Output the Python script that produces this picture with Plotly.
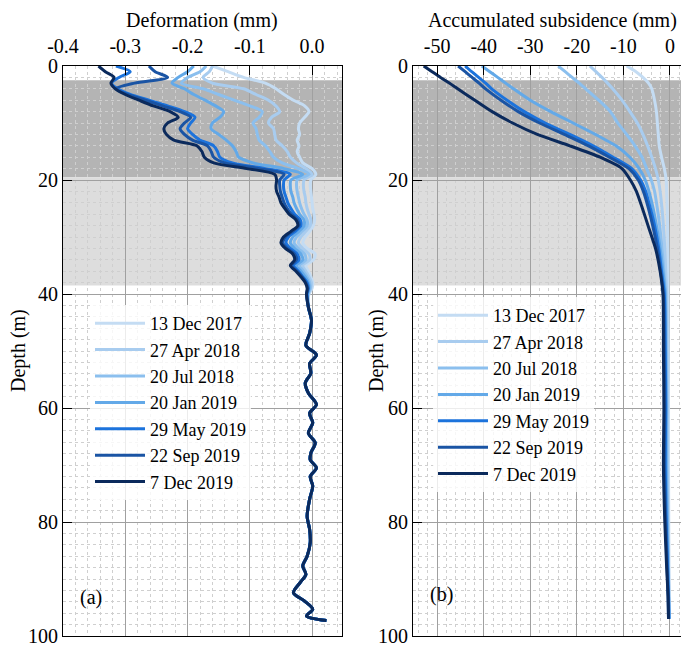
import plotly.graph_objects as go

# ---------------- data ----------------
series_names = ["13 Dec 2017", "27 Apr 2018", "20 Jul 2018", "20 Jan 2019",
                "29 May 2019", "22 Sep 2019", "7 Dec 2019"]
series_colors = ["#c4dcf3", "#a8ccef", "#8bbfee", "#63a9e8",
                 "#1c73dc", "#1a54a4", "#0b2a5c"]

# panel (a) depth (m)
depth_upper = list(range(0, 41))
depth_deep = [42.3, 44.6, 46.9, 49.0, 50.7, 52.2, 53.9, 55.6, 57.4, 59.4, 60.9,
              62.6, 64.4, 66.1, 67.9, 69.1, 70.5, 72.0, 73.7, 76.0, 79.0, 81.3,
              83.6, 86.0, 87.7, 89.2, 90.6, 92.4, 93.8, 95.3, 96.5, 97.3]
deform_deep = [-0.006, -0.001, -0.004, -0.010, 0.007, -0.004, -0.002, -0.011,
               -0.006, 0.007, -0.004, 0.001, -0.006, 0.005, -0.002, -0.003,
               0.007, -0.003, 0.001, -0.004, -0.008, -0.004, -0.003, -0.008,
               -0.015, -0.010, -0.019, -0.030, -0.013, 0.001, -0.009, 0.023]

deform_13dec2017 = [-0.160, -0.135, -0.110, -0.075, -0.058, -0.045, -0.030, -0.012, -0.005, -0.012,
                    -0.020, -0.022, -0.020, -0.024, -0.021, -0.024, -0.020, -0.015, 0.000, 0.006,
                    -0.002, -0.003, -0.002, -0.001, 0.000, 0.001, 0.003, 0.004, 0.002, -0.004,
                    -0.011, -0.015, -0.008, 0.005, 0.002, -0.010, -0.006, -0.002, 0.001, 0.000, -0.005]
deform_27apr2018 = [-0.160, -0.165, -0.175, -0.160, -0.110, -0.090, -0.070, -0.058, -0.052, -0.065,
                    -0.070, -0.062, -0.060, -0.058, -0.048, -0.040, -0.035, -0.025, -0.010, 0.000,
                    -0.013, -0.014, -0.013, -0.011, -0.010, -0.008, -0.005, -0.002, -0.003, -0.010,
                    -0.018, -0.022, -0.015, -0.005, -0.004, -0.015, -0.010, -0.005, -0.001, -0.002, -0.006]
deform_20jul2018 = [-0.170, -0.180, -0.200, -0.210, -0.175, -0.150, -0.125, -0.100, -0.080, -0.085,
                    -0.095, -0.090, -0.088, -0.085, -0.075, -0.068, -0.062, -0.048, -0.022, -0.005,
                    -0.024, -0.025, -0.024, -0.022, -0.020, -0.017, -0.013, -0.008, -0.008, -0.016,
                    -0.025, -0.029, -0.022, -0.012, -0.010, -0.020, -0.014, -0.008, -0.004, -0.003, -0.007]
deform_20jan2019 = [-0.190, -0.200, -0.215, -0.225, -0.205, -0.190, -0.172, -0.155, -0.142, -0.148,
                    -0.160, -0.162, -0.150, -0.138, -0.128, -0.122, -0.118, -0.095, -0.045, -0.015,
                    -0.034, -0.035, -0.034, -0.031, -0.029, -0.025, -0.020, -0.013, -0.013, -0.021,
                    -0.031, -0.035, -0.028, -0.018, -0.015, -0.025, -0.018, -0.011, -0.006, -0.005, -0.007]
deform_29may2019 = [-0.315, -0.292, -0.310, -0.322, -0.312, -0.292, -0.262, -0.232, -0.205, -0.188,
                    -0.195, -0.200, -0.192, -0.180, -0.158, -0.152, -0.148, -0.128, -0.075, -0.035,
                    -0.045, -0.046, -0.045, -0.042, -0.039, -0.034, -0.028, -0.019, -0.018, -0.027,
                    -0.038, -0.042, -0.035, -0.024, -0.021, -0.030, -0.022, -0.015, -0.008, -0.006, -0.008]
deform_22sep2019 = [-0.262, -0.252, -0.232, -0.285, -0.315, -0.296, -0.268, -0.240, -0.212, -0.195,
                    -0.205, -0.212, -0.205, -0.192, -0.168, -0.162, -0.158, -0.140, -0.085, -0.045,
                    -0.052, -0.052, -0.051, -0.048, -0.045, -0.040, -0.033, -0.023, -0.021, -0.031,
                    -0.043, -0.047, -0.040, -0.028, -0.025, -0.033, -0.024, -0.016, -0.010, -0.007, -0.009]
deform_7dec2019 = [-0.343, -0.332, -0.318, -0.323, -0.316, -0.300, -0.278, -0.255, -0.228, -0.215,
                   -0.232, -0.238, -0.234, -0.222, -0.185, -0.177, -0.173, -0.158, -0.105, -0.060,
                   -0.057, -0.058, -0.057, -0.053, -0.050, -0.044, -0.037, -0.026, -0.023, -0.034,
                   -0.046, -0.050, -0.043, -0.031, -0.028, -0.035, -0.026, -0.018, -0.011, -0.008, -0.009]

# panel (b)
depth_b = [0, 1, 2, 3, 4, 6, 8, 10, 12, 14, 16, 18, 20, 22, 25, 28, 32, 36, 40, 50, 60, 70, 80, 88, 93, 97]
subs_13dec2017 = [-9.3, -7.3, -5.8, -4.6, -3.9, -3.3, -2.9, -2.7, -2.5, -2.3, -1.8, -1.2, -0.8,
                  -0.7, -0.6, -0.5, -0.45, -0.4, -0.4, -0.35, -0.3, -0.3, -0.25, -0.2, -0.15, -0.1]
subs_27apr2018 = [-17.2, -15.9, -14.6, -13.4, -12.3, -10.3, -8.6, -7.0, -5.8, -4.8, -3.9, -3.1, -2.5,
                  -2.1, -1.7, -1.4, -1.1, -0.9, -0.7, -0.6, -0.5, -0.5, -0.4, -0.3, -0.2, -0.15]
subs_20jul2018 = [-24.0, -22.5, -21.0, -19.5, -18.1, -15.3, -12.8, -11.2, -9.3, -7.5, -6.0, -5.0, -4.0,
                  -3.3, -2.7, -2.2, -1.7, -1.3, -0.9, -0.8, -0.7, -0.7, -0.5, -0.35, -0.25, -0.2]
subs_20jan2019 = [-40.4, -38.7, -37.0, -35.3, -33.6, -30.0, -25.6, -20.8, -16.0, -11.6, -8.6, -6.6, -5.3,
                  -4.5, -3.6, -2.9, -2.1, -1.5, -1.0, -0.9, -0.8, -0.8, -0.6, -0.4, -0.3, -0.2]
subs_29may2019 = [-44.0, -42.6, -41.1, -39.6, -38.3, -35.0, -31.3, -26.8, -21.5, -16.5, -12.2, -8.2, -6.3,
                  -5.2, -4.2, -3.3, -2.4, -1.8, -1.2, -1.0, -0.9, -1.0, -0.8, -0.5, -0.3, -0.2]
subs_22sep2019 = [-45.5, -44.0, -42.5, -41.0, -39.6, -36.3, -32.6, -28.0, -22.7, -17.5, -13.0, -8.8, -6.8,
                  -5.7, -4.6, -3.7, -2.7, -2.0, -1.4, -1.2, -1.1, -1.2, -0.9, -0.6, -0.4, -0.3]
subs_7dec2019 = [-52.9, -51.1, -49.3, -47.4, -45.6, -41.9, -38.2, -33.8, -28.5, -21.5, -15.0, -10.3, -8.5,
                 -7.2, -5.9, -4.7, -3.1, -2.1, -1.5, -1.4, -1.3, -1.4, -1.1, -0.7, -0.4, -0.3]

# stratum boundaries (m): top of dark layer, dark/light boundary, bottom of light layer
zone_depths = [2.5, 19.5, 38.5]

depth_ticks = [0, 20, 40, 60, 80, 100]
deform_ticks = [-0.4, -0.3, -0.2, -0.1, 0.0]
deform_ticktext = ["-0.4", "-0.3", "-0.2", "-0.1", "0.0"]
subs_ticks = [-50, -40, -30, -20, -10, 0]
subs_ticktext = ["-50", "-40", "-30", "-20", "-10", "0"]

deform_series = [deform_13dec2017, deform_27apr2018, deform_20jul2018, deform_20jan2019,
                 deform_29may2019, deform_22sep2019, deform_7dec2019]
subs_series = [subs_13dec2017, subs_27apr2018, subs_20jul2018, subs_20jan2019,
               subs_29may2019, subs_22sep2019, subs_7dec2019]

# ---------------- figure ----------------
# the page body has an 8 px margin, so the figure is drawn 8 px smaller
OFF = 8
WIN_W, WIN_H = 689, 648
W, H = WIN_W - OFF, WIN_H - OFF
FONT = "Liberation Serif"
fig = go.Figure()

depth_a = depth_upper + depth_deep
for name, col, vals in zip(series_names, series_colors, deform_series):
    fig.add_trace(go.Scatter(
        x=vals + deform_deep, y=depth_a, mode="lines", name=name,
        line=dict(color=col, width=3, shape="spline", smoothing=0.8),
        xaxis="x", yaxis="y", legend="legend"))

for name, col, vals in zip(series_names, series_colors, subs_series):
    fig.add_trace(go.Scatter(
        x=vals, y=depth_b, mode="lines", name=name,
        line=dict(color=col, width=3, shape="spline", smoothing=0.6),
        xaxis="x2", yaxis="y2", legend="legend2"))

def px(v):
    return (v - OFF) / W

def py(v):
    return 1 - (v - OFF) / H

ydom = [py(636), py(66)]

common_x = dict(side="top", ticks="inside", ticklen=9, tickcolor="black", tickwidth=1,
                showline=True, linecolor="black", linewidth=1, mirror=True,
                showgrid=True, gridcolor="#a0a0a0", gridwidth=1, zeroline=False,
                automargin=False, ticklabelstandoff=4,
                tickfont=dict(family=FONT, size=20, color="black"))
common_y = dict(range=[100, 0], tickvals=depth_ticks, ticks="inside", ticklen=9,
                tickcolor="black", tickwidth=1, showline=True, linecolor="black",
                linewidth=1, showgrid=True, gridcolor="#a0a0a0", gridwidth=1,
                zeroline=False, domain=ydom, automargin=False, ticklabelstandoff=0,
                minor=dict(dtick=2, showgrid=True, gridcolor="#cfcfcf", griddash="dot", ticks=""),
                tickfont=dict(family=FONT, size=20, color="black"))

leg_common = dict(xanchor="left", yanchor="top", bgcolor="rgba(255,255,255,0.8)",
                  borderwidth=0, font=dict(family=FONT, size=18, color="black"),
                  itemwidth=50, tracegroupgap=0)

fig.update_layout(
    width=W, height=H,
    margin=dict(l=0, r=0, t=0, b=0, autoexpand=False),
    paper_bgcolor="white", plot_bgcolor="white",
    font=dict(family=FONT, size=20, color="black"),
    xaxis=dict(common_x, domain=[px(63), px(342)], anchor="y",
               range=[-0.4, 0.048], tickvals=deform_ticks, ticktext=deform_ticktext,
               minor=dict(dtick=0.02, showgrid=True, gridcolor="#cfcfcf", griddash="dot", ticks="")),
    yaxis=dict(common_y, anchor="x", mirror=True),
    xaxis2=dict(common_x, domain=[px(413), 1.0], anchor="y2",
                range=[-55.2, 4.1], tickvals=subs_ticks, ticktext=subs_ticktext,
                minor=dict(dtick=2, showgrid=True, gridcolor="#cfcfcf", griddash="dot", ticks="")),
    yaxis2=dict(common_y, anchor="x2", mirror=False),
    legend=dict(leg_common, x=px(90), y=py(305)),
    legend2=dict(leg_common, x=px(433), y=py(297)),
    showlegend=True,
)

# stratum shading
for xr, yr in (("x domain", "y"), ("x2 domain", "y2")):
    fig.add_shape(type="rect", xref=xr, yref=yr, x0=0, x1=1,
                  y0=zone_depths[0], y1=zone_depths[1],
                  fillcolor="#b4b4b4", line=dict(width=0), layer="below")
    fig.add_shape(type="rect", xref=xr, yref=yr, x0=0, x1=1,
                  y0=zone_depths[1], y1=zone_depths[2],
                  fillcolor="#dddddd", line=dict(width=0), layer="below")

ann_font = dict(family=FONT, size=20, color="black")
annots = [
    dict(text="Deformation (mm)", x=px(202), y=py(20)),
    dict(text="Accumulated subsidence (mm)", x=px(552), y=py(20)),
    dict(text="Depth (m)", x=px(18), y=py(351), textangle=-90),
    dict(text="Depth (m)", x=px(376), y=py(351), textangle=-90),
    dict(text="(a)", x=px(91), y=py(597)),
    dict(text="(b)", x=px(442), y=py(594)),
]
for a in annots:
    fig.add_annotation(xref="paper", yref="paper", showarrow=False,
                       xanchor="center", yanchor="middle", font=ann_font, **a)

fig.write_html("out.html")
